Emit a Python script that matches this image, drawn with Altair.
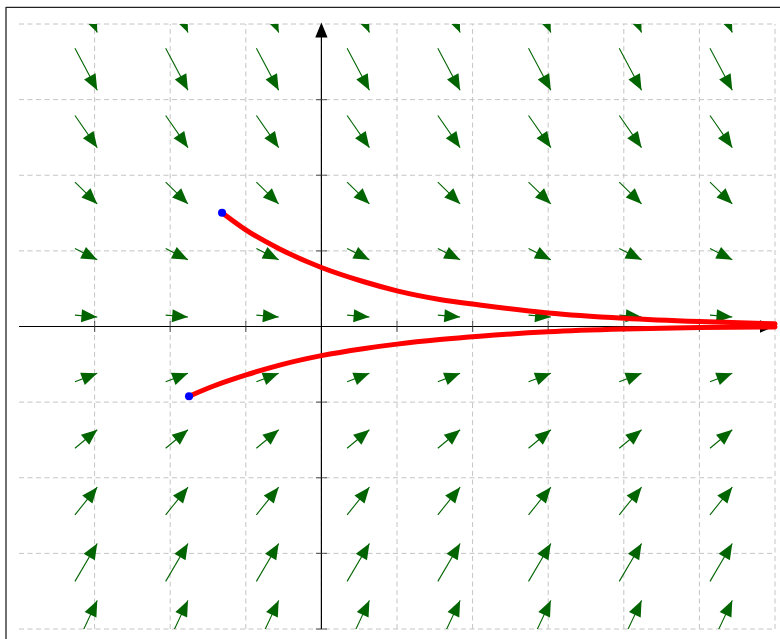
import altair as alt
import pandas as pd

# Direction field of y' = -y/2: arrow tails on a regular grid, slope per row
arrow_x = [-3.26, -2.06, -0.86, 0.34, 1.54, 2.74, 3.94, 5.14]
arrow_y = [4.56, 3.68, 2.79, 1.91, 1.03, 0.15, -0.73, -1.61, -2.49, -3.37, -4.25]
arrow_slope = [-2.28, -1.89, -1.44, -0.98, -0.50, -0.08, 0.38, 0.83, 1.24, 1.70, 2.13]
ARROW_DX = 0.295

# Two solution curves and their initial points
upper_x = [-1.314, -0.995, -0.552, 0.0, 0.551, 1.0, 1.565, 2.094, 3.0, 4.0, 5.0, 6.0]
upper_y = [1.505, 1.275, 1.025, 0.780, 0.595, 0.472, 0.358, 0.284, 0.180, 0.110, 0.065, 0.035]
lower_x = [-1.751, -1.434, -0.995, -0.552, 0.0, 0.551, 1.0, 1.565, 2.094, 3.0, 4.0, 5.0, 6.0]
lower_y = [-0.922, -0.790, -0.640, -0.510, -0.385, -0.293, -0.233, -0.173, -0.128, -0.070, -0.034, -0.014, -0.005]

grid_x = [-3, -2, -1, 0, 1, 2, 3, 4, 5, 6]
grid_y = [-4, -3, -2, -1, 0, 1, 2, 3, 4]
tick_x = [-3, -2, -1, 1, 2, 3, 4, 5]
tick_y = [-4, -3, -2, -1, 1, 2, 3]

X_MIN, X_MAX, Y_MIN, Y_MAX = -4, 6, -4, 4

xs = alt.Scale(domain=[X_MIN, X_MAX], nice=False, zero=False)
ys = alt.Scale(domain=[Y_MIN, Y_MAX], nice=False, zero=False)
X = lambda f="x": alt.X(f"{f}:Q", scale=xs, axis=None)
Y = lambda f="y": alt.Y(f"{f}:Q", scale=ys, axis=None)

GREEN = "#006400"
HEAD = "M0,0L-2,-0.82L-2,0.82Z"  # arrowhead with its tip at the origin, pointing right

# --- grid -------------------------------------------------------------
vgrid = alt.Chart(pd.DataFrame({"x": grid_x, "y": Y_MIN, "y2": Y_MAX})).mark_rule(
    color="#c4c4c4", strokeWidth=1, strokeDash=[5, 3.5]
).encode(x=X(), y=Y(), y2="y2:Q")
hgrid = alt.Chart(pd.DataFrame({"y": grid_y, "x": X_MIN, "x2": X_MAX})).mark_rule(
    color="#c4c4c4", strokeWidth=1, strokeDash=[5, 3.5]
).encode(y=Y(), x=X(), x2="x2:Q")

# --- coordinate axes with arrowheads and ticks -------------------------
xaxis = alt.Chart(pd.DataFrame({"x": [X_MIN], "x2": [X_MAX - 0.1], "y": [0]})).mark_rule(
    color="black", strokeWidth=1.2
).encode(x=X(), x2="x2:Q", y=Y())
yaxis = alt.Chart(pd.DataFrame({"x": [0], "y": [Y_MIN], "y2": [Y_MAX - 0.1]})).mark_rule(
    color="black", strokeWidth=1.2
).encode(x=X(), y=Y(), y2="y2:Q")
axis_heads = alt.Chart(
    pd.DataFrame({"x": [X_MAX, 0], "y": [0, Y_MAX + 0.02], "angle": [0, 270]})
).mark_point(shape=HEAD, filled=True, size=225, color="black", opacity=1).encode(
    x=X(), y=Y(), angle=alt.Angle("angle:Q", scale=None)
)
xticks = alt.Chart(pd.DataFrame({"x": tick_x, "y": 0})).mark_tick(
    orient="vertical", size=11, thickness=1.2, color="#333333"
).encode(x=X(), y=Y())
yticks = alt.Chart(pd.DataFrame({"y": tick_y, "x": 0})).mark_tick(
    orient="horizontal", size=11, thickness=1.2, color="#333333"
).encode(x=X(), y=Y())

# --- direction field ---------------------------------------------------
rows = []
for yv, s in zip(arrow_y, arrow_slope):
    for xv in arrow_x:
        rows.append({"x": xv, "y": yv, "slope": s})
field = pd.DataFrame(rows)
field_base = alt.Chart(field).transform_calculate(
    x2=f"datum.x + {ARROW_DX}",
    y2=f"datum.y + {ARROW_DX} * datum.slope",
    angle="(atan2(-datum.slope, 1) * 180 / PI + 360) % 360",
)
shafts = field_base.mark_rule(color=GREEN, strokeWidth=1.1, clip=True).encode(
    x=X(), y=Y(), x2="x2:Q", y2="y2:Q"
)
heads = field_base.mark_point(
    shape=HEAD, filled=True, size=250, color=GREEN, opacity=1, clip=True
).encode(x=X("x2"), y=Y("y2"), angle=alt.Angle("angle:Q", scale=None))

# --- solution curves ---------------------------------------------------
curves = pd.DataFrame(
    {"x": upper_x + lower_x, "y": upper_y + lower_y,
     "curve": ["upper"] * len(upper_x) + ["lower"] * len(lower_x)}
)
lines = alt.Chart(curves).mark_line(
    color="#ff0000", strokeWidth=5, interpolate="monotone", strokeCap="round"
).encode(x=X(), y=Y(), detail="curve:N")
starts = alt.Chart(
    pd.DataFrame({"x": [upper_x[0], lower_x[0]], "y": [upper_y[0], lower_y[0]]})
).mark_circle(color="#0000ff", size=65, opacity=1).encode(x=X(), y=Y())

# --- outer frame (left and top edges) -----------------------------------
one = pd.DataFrame({"k": [0]})
frame_left = alt.Chart(one).mark_rule(color="#222222", strokeWidth=1.3).encode(
    x=alt.value(-13), y=alt.value(-17), y2=alt.value(700)
)
frame_top = alt.Chart(one).mark_rule(color="#222222", strokeWidth=1.3).encode(
    x=alt.value(-13), x2=alt.value(800), y=alt.value(-16.7)
)

chart = alt.layer(
    vgrid, hgrid, xaxis, yaxis, xticks, yticks, axis_heads,
    shafts, heads, lines, starts, frame_left, frame_top,
).properties(
    width=756,
    height=605,
    padding={"left": 19, "top": 24, "right": 5, "bottom": 10},
    autosize=alt.AutoSizeParams(type="none"),
).configure_view(stroke=None)

chart.save("out.html", embed_options={"renderer": "svg", "actions": False})
